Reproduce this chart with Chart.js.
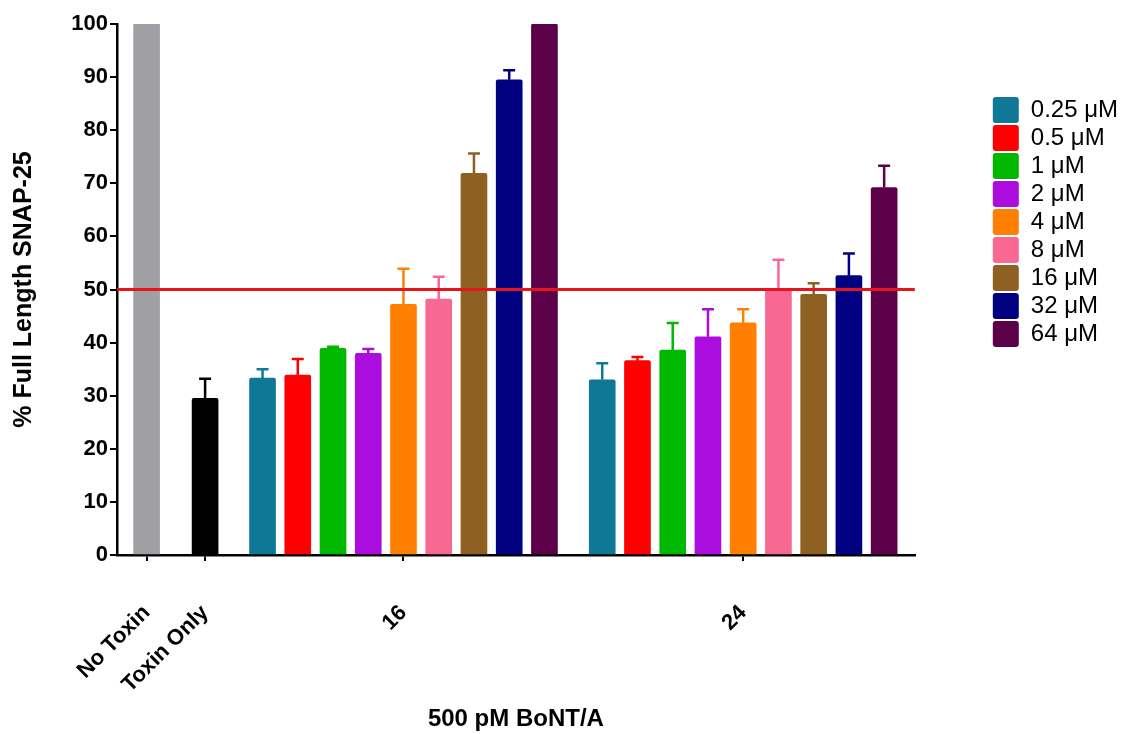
<!DOCTYPE html>
<html>
<head>
<meta charset="utf-8">
<script src="https://cdn.jsdelivr.net/npm/chart.js@4.4.1/dist/chart.umd.min.js"></script>
<style>
  html, body { margin: 0; padding: 0; background: #ffffff; }
  #wrap { width: 1128px; height: 734px; }
</style>
</head>
<body>
<div id="wrap"><canvas id="chart" width="1128" height="734"></canvas></div>
<script>
// ---------------- DATA ----------------
const controlLabels = ['No Toxin', 'Toxin Only'];
const controlValues = [100, 29.5];
const controlErrors = [0, 3.7];

const timeLabels = ['16', '24'];
const concentrations = ['0.25 \u03bcM', '0.5 \u03bcM', '1 \u03bcM', '2 \u03bcM', '4 \u03bcM', '8 \u03bcM', '16 \u03bcM', '32 \u03bcM', '64 \u03bcM'];
const values16 = [33.3, 33.9, 38.9, 38.0, 47.2, 48.2, 71.9, 89.5, 100];
const errors16 = [1.7, 3.0, 0.3, 0.8, 6.7, 4.2, 3.7, 1.8, 0];
const values24 = [33.0, 36.6, 38.6, 41.1, 43.7, 50.2, 49.1, 52.6, 69.2];
const errors24 = [3.1, 0.7, 5.1, 5.2, 2.6, 5.4, 2.1, 4.2, 4.1];

const thresholdValue = 50;
const yAxisTitle = '% Full Length SNAP-25';
const xAxisTitle = '500 pM BoNT/A';

// ---------------- STYLE / LAYOUT ----------------
const FONT = "'Liberation Sans', Arial, Helvetica, sans-serif";
const controlColors = ['#A0A0A4', '#000000'];
const concColors = ['#0E7896', '#FF0000', '#00B800', '#AA0DDE', '#FF8000', '#F86892', '#8E6123', '#000080', '#5C004A'];
// x positions in "bar slot" units on a linear axis
const controlSlots = [0.84, 2.5];
const groupCenterSlots = [8.13, 17.77];
const xMaxSlots = 22.64;

Chart.defaults.font.family = FONT;
Chart.defaults.color = '#000';

const datasets = [];
controlLabels.forEach((lab, i) => {
  datasets.push({
    label: lab,
    data: [{ x: controlSlots[i], y: controlValues[i] }],
    errors: [controlErrors[i]],
    backgroundColor: controlColors[i],
    barThickness: 26,
    grouped: false,
    borderRadius: i === 0 ? 0 : 2,
    isControl: true
  });
});
concentrations.forEach((c, j) => {
  datasets.push({
    label: c,
    data: [
      { x: groupCenterSlots[0] + (j - 4), y: values16[j] },
      { x: groupCenterSlots[1] + (j - 4), y: values24[j] }
    ],
    errors: [errors16[j], errors24[j]],
    backgroundColor: concColors[j],
    barThickness: 26,
    grouped: false,
    borderRadius: 2
  });
});

const tickPositions = controlSlots.concat(groupCenterSlots);
const tickLabels = controlLabels.concat(timeLabels);

const overlayPlugin = {
  id: 'overlay',
  afterDatasetsDraw(chart) {
    const ctx = chart.ctx;
    const yScale = chart.scales.y;
    // error bars (upper only)
    chart.data.datasets.forEach((ds, di) => {
      const meta = chart.getDatasetMeta(di);
      meta.data.forEach((el, k) => {
        const e = ds.errors[k];
        if (!e) return;
        const v = ds.data[k].y;
        const yTop = yScale.getPixelForValue(v + e);
        ctx.save();
        ctx.strokeStyle = ds.backgroundColor;
        ctx.lineWidth = 2.5;
        ctx.beginPath();
        ctx.moveTo(el.x, el.y);
        ctx.lineTo(el.x, yTop);
        ctx.moveTo(el.x - 6, yTop);
        ctx.lineTo(el.x + 6, yTop);
        ctx.stroke();
        ctx.restore();
      });
    });
    // threshold line
    const a = chart.chartArea;
    const y50 = yScale.getPixelForValue(thresholdValue);
    ctx.save();
    ctx.strokeStyle = '#E8141B';
    ctx.lineWidth = 3;
    ctx.beginPath();
    ctx.moveTo(a.left, y50);
    ctx.lineTo(a.right, y50);
    ctx.stroke();
    ctx.restore();
  }
};

new Chart(document.getElementById('chart'), {
  type: 'bar',
  data: { datasets },
  plugins: [overlayPlugin],
  options: {
    responsive: false,
    animation: false,
    devicePixelRatio: 1,
    events: [],
    layout: { padding: { top: 24, left: 0, right: 0, bottom: 0 } },
    plugins: {
      tooltip: { enabled: false },
      legend: {
        position: 'right',
        align: 'start',
        title: { display: true, text: '', font: { size: 10 }, padding: { top: 59, bottom: 0 } },
        labels: {
          boxWidth: 26,
          boxHeight: 26,
          padding: 2,
          color: '#000',
          font: { size: 24, family: FONT },
          useBorderRadius: true,
          borderRadius: 3,
          filter: (item, data) => !data.datasets[item.datasetIndex].isControl
        }
      }
    },
    scales: {
      x: {
        type: 'linear',
        min: 0,
        max: xMaxSlots,
        offset: false,
        afterBuildTicks: (s) => { s.ticks = tickPositions.map(v => ({ value: v })); },
        afterFit: (s) => { s.height = 179; },
        ticks: {
          autoSkip: false,
          minRotation: 45,
          maxRotation: 45,
          padding: 39,
          color: '#000',
          font: { size: 22, weight: 'bold' },
          callback: (v, i) => tickLabels[i]
        },
        grid: { offset: false, drawOnChartArea: false, drawTicks: true, tickLength: 6, color: '#000', lineWidth: 2 },
        border: { display: true, color: '#000', width: 2.5 },
        title: { display: true, text: xAxisTitle, color: '#000', font: { size: 24, weight: 'bold' }, padding: { top: 0, bottom: 0 } }
      },
      y: {
        min: 0,
        max: 100,
        afterFit: (s) => { s.width = 117; },
        ticks: { stepSize: 10, padding: 2, color: '#000', font: { size: 22, weight: 'bold' } },
        grid: { drawOnChartArea: false, drawTicks: true, tickLength: 7, color: '#000', lineWidth: 2 },
        border: { display: true, color: '#000', width: 2.5 },
        title: { display: true, text: yAxisTitle, color: '#000', font: { size: 25, weight: 'bold' }, padding: { top: 9, bottom: 0 } }
      },
      yRight: {
        position: 'right',
        min: 0,
        max: 1,
        display: true,
        afterFit: (s) => { s.width = 76; },
        ticks: { display: false },
        grid: { display: false, drawTicks: false },
        border: { display: false }
      }
    }
  }
});
</script>
</body>
</html>
